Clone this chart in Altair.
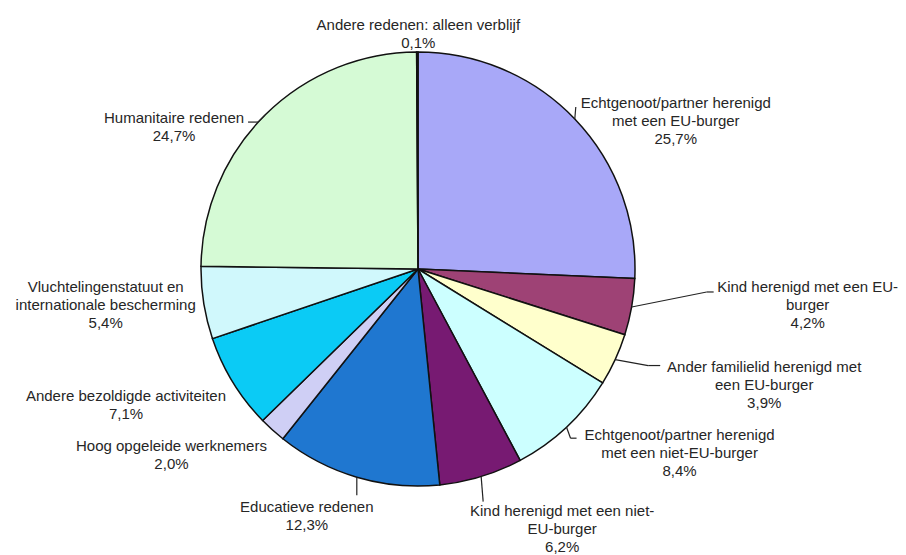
import altair as alt
import pandas as pd

# ---- data ----
categories = [
    "Echtgenoot/partner herenigd met een EU-burger",
    "Kind herenigd met een EU-burger",
    "Ander familielid herenigd met een EU-burger",
    "Echtgenoot/partner herenigd met een niet-EU-burger",
    "Kind herenigd met een niet-EU-burger",
    "Educatieve redenen",
    "Hoog opgeleide werknemers",
    "Andere bezoldigde activiteiten",
    "Vluchtelingenstatuut en internationale bescherming",
    "Humanitaire redenen",
    "Andere redenen: alleen verblijf",
]
values = [25.7, 4.2, 3.9, 8.4, 6.2, 12.3, 2.0, 7.1, 5.4, 24.7, 0.1]
label_lines = [
    "Echtgenoot/partner herenigd\nmet een EU-burger",
    "Kind herenigd met een EU-\nburger",
    "Ander familielid herenigd met\neen EU-burger",
    "Echtgenoot/partner herenigd\nmet een niet-EU-burger",
    "Kind herenigd met een niet-\nEU-burger",
    "Educatieve redenen",
    "Hoog opgeleide werknemers",
    "Andere bezoldigde activiteiten",
    "Vluchtelingenstatuut en\ninternationale bescherming",
    "Humanitaire redenen",
    "Andere redenen: alleen verblijf",
]

# ---- styles ----
colors = ["#A8A8F8", "#9E4275", "#FFFFCC", "#CCFFFF", "#771A72", "#1F77D0",
          "#CFCFF5", "#0BCBF5", "#D0F8FC", "#D5FAD5", "#000000"]

# ---- label layout: offsets (first text line) from the slice's mid-angle point on the rim ----
label_dx = [101, 176, 149, 113, 81, -50, -101, -107, -98, -91, 1]
label_dy = [-16, -20, 7, 8, 34, 30, 16, 14, -16, 3, -27]
# leader polyline: rim -> (k1) -> (k2)
lead1_dx = [1, 75, 33, 4, 2, 0, 0, 0, 0, -7, 0]
lead1_dy = [-12, -15, 6, 11, 25, 18, 0, 0, 0, 7, 0]
lead2_dx = [1, 82, 45, 10, 2, 0, 0, 0, 0, -17, 0]
lead2_dy = [-12, -15, 6, 11, 25, 18, 0, 0, 0, 7, 0]

CX, CY, R = 410, 261, 217

df = pd.DataFrame({
    "idx": list(range(len(categories))),
    "category": categories,
    "value": values,
    "label": [f"{t}\n{str(v).replace('.', ',')}%" for t, v in zip(label_lines, values)],
    "ldx": label_dx, "ldy": label_dy,
    "k1dx": lead1_dx, "k1dy": lead1_dy,
    "k2dx": lead2_dx, "k2dy": lead2_dy,
})

base = alt.Chart(df)

pie = base.mark_arc(radius=R, stroke="#111111", strokeWidth=1.5).encode(
    theta=alt.Theta("value:Q", stack=True),
    color=alt.Color("category:N", scale=alt.Scale(domain=categories, range=colors), legend=None),
    order=alt.Order("idx:Q"),
    x=alt.value(CX),
    y=alt.value(CY),
)

geo = base.transform_window(
    cum="sum(value)", sort=[alt.SortField("idx")], frame=[None, 0]
).transform_joinaggregate(
    total="sum(value)"
).transform_calculate(
    mid="(datum.cum - datum.value/2) / datum.total * 2 * PI"
).transform_calculate(
    ex=f"{CX} + {R} * sin(datum.mid)",
    ey=f"{CY} - {R} * cos(datum.mid)",
).transform_calculate(
    lx="datum.ex + datum.ldx", ly="datum.ey + datum.ldy",
    k1x="datum.ex + datum.k1dx", k1y="datum.ey + datum.k1dy",
    k2x="datum.ex + datum.k2dx", k2y="datum.ey + datum.k2dy",
)

lead_a = geo.mark_rule(color="#222222", strokeWidth=1.2).encode(
    x=alt.X("ex:Q", scale=None, axis=None), y=alt.Y("ey:Q", scale=None, axis=None),
    x2="k1x:Q", y2="k1y:Q",
)
lead_b = geo.mark_rule(color="#222222", strokeWidth=1.2).encode(
    x=alt.X("k1x:Q", scale=None, axis=None), y=alt.Y("k1y:Q", scale=None, axis=None),
    x2="k2x:Q", y2="k2y:Q",
)

labels = geo.mark_text(
    align="center", baseline="middle", fontSize=15, lineHeight=18,
    font="Liberation Sans", color="#262626", lineBreak="\n",
).encode(
    x=alt.X("lx:Q", scale=None, axis=None),
    y=alt.Y("ly:Q", scale=None, axis=None),
    text="label:N",
)

chart = alt.layer(pie, lead_a, lead_b, labels).properties(
    width=890, height=546, padding=0,
    autosize=alt.AutoSizeParams(type="none"),
).configure_view(stroke=None)

chart.save("out.html", embed_options={"renderer": "svg", "actions": False})
